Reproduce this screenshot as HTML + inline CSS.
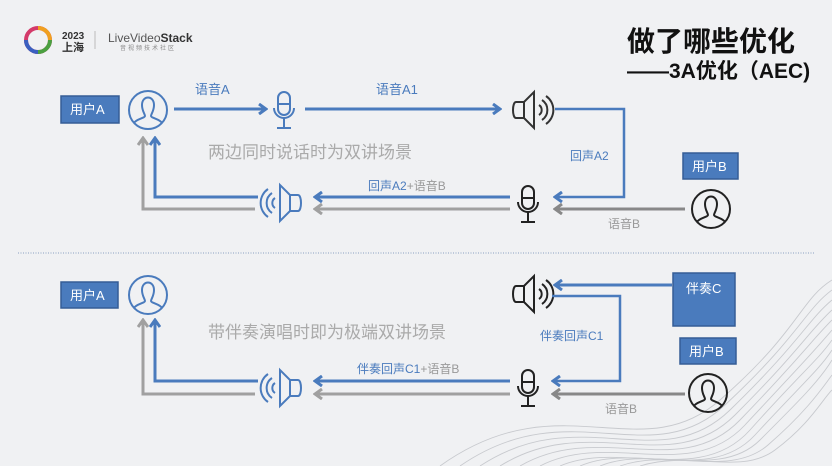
<!DOCTYPE html>
<html><head><meta charset="utf-8"><style>
html,body{margin:0;padding:0;background:#f0f1f3;}
svg{display:block;font-family:"Liberation Sans","Noto Sans CJK SC",sans-serif;}
</style></head><body>
<svg width="832" height="466" viewBox="0 0 832 466" xmlns="http://www.w3.org/2000/svg">
<defs>
<marker id="ab" markerWidth="10" markerHeight="12" refX="8" refY="6" orient="auto" markerUnits="userSpaceOnUse">
<path d="M1,1 L8,6 L1,11" fill="none" stroke="#4a7bbd" stroke-width="3"/></marker>
<marker id="ag" markerWidth="10" markerHeight="12" refX="8" refY="6" orient="auto" markerUnits="userSpaceOnUse">
<path d="M1,1 L8,6 L1,11" fill="none" stroke="#a0a0a0" stroke-width="3"/></marker>
<marker id="ad" markerWidth="10" markerHeight="12" refX="8" refY="6" orient="auto" markerUnits="userSpaceOnUse">
<path d="M1,1 L8,6 L1,11" fill="none" stroke="#888" stroke-width="3"/></marker>
<g id="user" fill="none" stroke-width="2">
<circle r="19"/>
<path d="M-6,-5 C-6,-15 6,-15 6,-5 C6,1 3,4 3,6 C3,8 12,9 14,13 M-6,-5 C-6,1 -3,4 -3,6 C-3,8 -12,9 -14,13"/>
</g>
<g id="mic" fill="none" stroke-width="2">
<rect x="-6" y="-19" width="12" height="23" rx="6"/>
<line x1="-6" y1="-7" x2="6" y2="-7"/>
<path d="M-10,-3 A10,10 0 0 0 10,-3"/>
<line x1="0" y1="7" x2="0" y2="16"/>
<line x1="-7" y1="17" x2="7" y2="17"/>
</g>
<g id="spk" fill="none" stroke-width="2">
<path d="M-4,-8 L-12,-8 C-16,-8 -16,8 -12,8 L-4,8 L6,18 L6,-18 Z"/>
<line x1="-4" y1="-8" x2="-4" y2="8"/>
<path d="M11,-5 A6,6 0 0 1 11,5"/>
<path d="M14,-10 A12,12 0 0 1 14,10"/>
<path d="M18,-14 A17,17 0 0 1 18,14"/>
</g>
</defs>

<g fill="none" stroke="#c4c6cb" stroke-width="0.9" opacity="0.9">
<path d="M440,466 C560,380 640,470 720,400 S800,300 832,280"/>
<path d="M460,466 C570,390 650,475 725,405 S805,310 832,290"/>
<path d="M480,466 C580,400 660,478 730,410 S808,320 832,300"/>
<path d="M500,466 C590,410 670,480 735,415 S810,330 832,310"/>
<path d="M520,466 C600,420 680,482 740,420 S812,340 832,320"/>
<path d="M540,466 C610,430 690,484 745,425 S815,350 832,330"/>
<path d="M560,466 C620,440 700,486 750,430 S818,360 832,340"/>
<path d="M580,466 C635,442 710,484 755,435 S819,370 832,350"/>
<path d="M600,466 C650,445 720,480 760,440 S820,380 832,360"/>
<path d="M620,466 C670,448 730,478 768,445 S821,390 832,375"/>
<path d="M640,466 C690,450 740,476 775,450 S822,400 832,390"/>
</g>

<circle cx="38" cy="40" r="12" fill="none" stroke="#d43a6a" stroke-width="4"/>
<path d="M38,28 A12,12 0 0 1 50,40" fill="none" stroke="#f0a020" stroke-width="4"/>
<path d="M50,40 A12,12 0 0 1 38,52" fill="none" stroke="#4aa040" stroke-width="4"/>
<path d="M38,52 A12,12 0 0 1 26,40" fill="none" stroke="#3a60c0" stroke-width="4"/>
<text x="62" y="39" font-size="10" font-weight="bold" fill="#333">2023</text>
<text x="62" y="51" font-size="11" font-weight="bold" fill="#333">上海</text>
<line x1="95" y1="31" x2="95" y2="49" stroke="#bbb"/>
<text x="108" y="42" font-size="12" fill="#555">LiveVideo<tspan font-weight="bold" fill="#333">Stack</tspan></text>
<text x="120" y="50" font-size="6" fill="#888" letter-spacing="2">音视频技术社区</text>

<text x="627" y="51" font-size="28" font-weight="bold" fill="#111">做了哪些优化</text>
<text x="627" y="78" font-size="21" font-weight="bold" fill="#111">——3A优化（AEC)</text>

<rect x="61" y="96" width="58" height="27" fill="#4a7bbd" stroke="#355d96" stroke-width="1.5"/>
<text x="70" y="114" font-size="13" fill="#fff">用户A</text>
<use href="#user" x="148" y="110" stroke="#4a7bbd"/>
<line x1="174" y1="109" x2="266" y2="109" stroke="#4a7bbd" stroke-width="3" marker-end="url(#ab)"/>
<text x="195" y="94" font-size="13" fill="#4a7bbd">语音A</text>
<use href="#mic" x="284" y="111" stroke="#4a7bbd"/>
<line x1="305" y1="109" x2="500" y2="109" stroke="#4a7bbd" stroke-width="3" marker-end="url(#ab)"/>
<text x="376" y="94" font-size="13" fill="#4a7bbd">语音A1</text>
<use href="#spk" x="528" y="110" stroke="#333"/>
<polyline points="555,109 624,109 624,197 555,197" fill="none" stroke="#4a7bbd" stroke-width="2.5" marker-end="url(#ab)"/>
<text x="570" y="160" font-size="12" fill="#4a7bbd">回声A2</text>
<rect x="683" y="153" width="55" height="26" fill="#4a7bbd" stroke="#355d96" stroke-width="1.5"/>
<text x="692" y="171" font-size="13" fill="#fff">用户B</text>
<use href="#user" x="711" y="209" stroke="#222"/>
<line x1="685" y1="209" x2="555" y2="209" stroke="#888" stroke-width="3" marker-end="url(#ad)"/>
<text x="608" y="228" font-size="12" fill="#999">语音B</text>
<use href="#mic" x="528" y="205" stroke="#222"/>
<line x1="510" y1="197" x2="315" y2="197" stroke="#4a7bbd" stroke-width="3" marker-end="url(#ab)"/>
<line x1="510" y1="209" x2="315" y2="209" stroke="#a0a0a0" stroke-width="3" marker-end="url(#ag)"/>
<text x="368" y="190" font-size="12" fill="#4a7bbd">回声A2<tspan fill="#999">+语音B</tspan></text>
<use href="#spk" transform="translate(286,203) scale(-1,1)" stroke="#4a7bbd"/>
<polyline points="258,197 155,197 155,138" fill="none" stroke="#4a7bbd" stroke-width="3" marker-end="url(#ab)"/>
<polyline points="255,209 143,209 143,138" fill="none" stroke="#a0a0a0" stroke-width="3" marker-end="url(#ag)"/>
<text x="208" y="158" font-size="17" fill="#aaa">两边同时说话时为双讲场景</text>

<line x1="18" y1="253" x2="815" y2="253" stroke="#8aa0c0" stroke-width="1" stroke-dasharray="1,1.5"/>

<rect x="61" y="282" width="57" height="26" fill="#4a7bbd" stroke="#355d96" stroke-width="1.5"/>
<text x="70" y="300" font-size="13" fill="#fff">用户A</text>
<use href="#user" x="148" y="295" stroke="#4a7bbd"/>
<text x="208" y="338" font-size="17" fill="#aaa">带伴奏演唱时即为极端双讲场景</text>
<use href="#spk" x="528" y="294" stroke="#222"/>
<rect x="673" y="273" width="62" height="53" fill="#4a7bbd" stroke="#355d96" stroke-width="1.5"/>
<text x="686" y="293" font-size="13" fill="#fff">伴奏C</text>
<line x1="672" y1="285" x2="555" y2="285" stroke="#4a7bbd" stroke-width="3" marker-end="url(#ab)"/>
<polyline points="552,296 620,296 620,381 553,381" fill="none" stroke="#4a7bbd" stroke-width="2.5" marker-end="url(#ab)"/>
<text x="540" y="340" font-size="12" fill="#4a7bbd">伴奏回声C1</text>
<rect x="680" y="338" width="56" height="26" fill="#4a7bbd" stroke="#355d96" stroke-width="1.5"/>
<text x="689" y="356" font-size="13" fill="#fff">用户B</text>
<use href="#user" x="708" y="393" stroke="#222"/>
<line x1="685" y1="394" x2="553" y2="394" stroke="#888" stroke-width="3" marker-end="url(#ad)"/>
<text x="605" y="413" font-size="12" fill="#999">语音B</text>
<use href="#mic" x="528" y="389" stroke="#222"/>
<line x1="510" y1="381" x2="315" y2="381" stroke="#4a7bbd" stroke-width="3" marker-end="url(#ab)"/>
<line x1="510" y1="394" x2="315" y2="394" stroke="#a0a0a0" stroke-width="3" marker-end="url(#ag)"/>
<text x="357" y="373" font-size="12" fill="#4a7bbd">伴奏回声C1<tspan fill="#999">+语音B</tspan></text>
<use href="#spk" transform="translate(286,388) scale(-1,1)" stroke="#4a7bbd"/>
<polyline points="258,381 155,381 155,320" fill="none" stroke="#4a7bbd" stroke-width="3" marker-end="url(#ab)"/>
<polyline points="255,394 143,394 143,320" fill="none" stroke="#a0a0a0" stroke-width="3" marker-end="url(#ag)"/>
</svg>
</body></html>
